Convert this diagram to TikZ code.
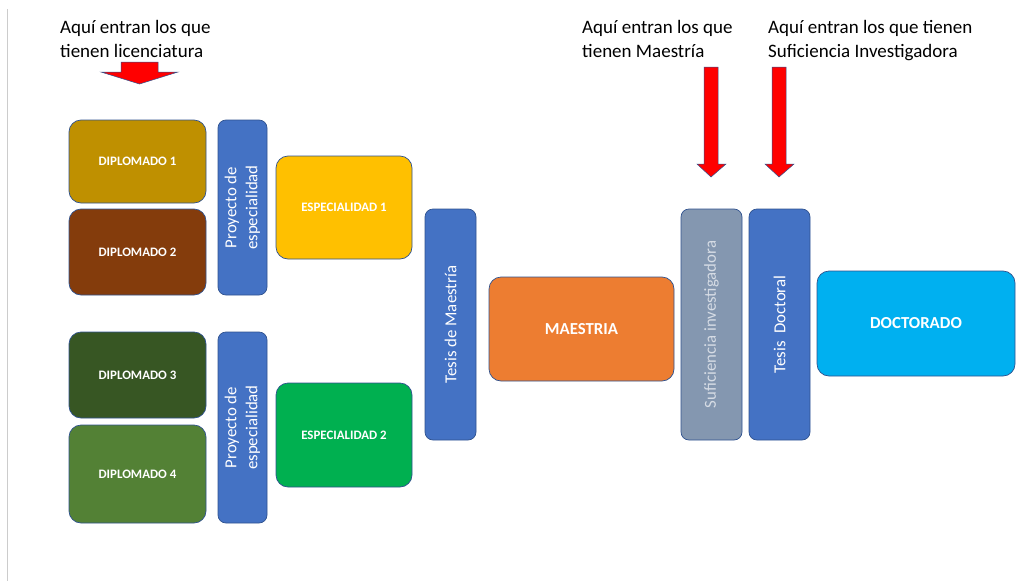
\documentclass[tikz,border=0pt]{standalone}
\usepackage{fontspec}
\setmainfont{Carlito}
\definecolor{edge}{HTML}{2F528F}
\definecolor{cdA}{HTML}{BF9000}
\definecolor{cdB}{HTML}{843C0C}
\definecolor{cdC}{HTML}{375623}
\definecolor{cdD}{HTML}{538135}
\definecolor{cblue}{HTML}{4472C4}
\definecolor{cyel}{HTML}{FFC000}
\definecolor{cgrn}{HTML}{00B050}
\definecolor{corg}{HTML}{ED7D31}
\definecolor{cgray}{HTML}{8497B0}
\definecolor{csky}{HTML}{00B0F0}
\definecolor{ltxt}{HTML}{D6DCE5}
\begin{document}
\begin{tikzpicture}[x=1pt,y=-1pt,
  box/.style={draw=edge, line width=0.7pt, rounded corners=12pt, inner sep=0pt, text=white,
    font=\bfseries\fontsize{12.9}{15}\selectfont},
  bigbox/.style={box, font=\bfseries\fontsize{16.8}{20}\selectfont},
  bar/.style={draw=edge, line width=0.7pt, rounded corners=8pt, inner sep=0pt, text=white,
    rotate=90, align=center, font=\fontsize{16.8}{21}\selectfont},
  note/.style={anchor=north west, align=left, inner sep=0pt, font=\fontsize{19}{23.5}\selectfont},
  redarrow/.style={fill=red, draw=edge, line width=0.5pt}]
\useasboundingbox (0,0) rectangle (1023,581);
\draw[black!20, line width=1pt] (7.5,9) -- (7.5,581);

% notes
\node[note] (n1) at (60,20.5) {Aquí entran los que\\tienen licenciatura};
\node[note] (n2) at (582,20.5) {Aquí entran los que\\tienen Maestría};
\node[note] (n3) at (768,20.5) {Aquí entran los que tienen\\Suficiencia Investigadora};

% arrows
\draw[redarrow] (121,62) -- (158,62) -- (158,72) -- (178,72) -- (139.5,84) -- (101,72) -- (121,72) -- cycle;
\draw[redarrow] (704,67) -- (718,67) -- (718,164) -- (726,164) -- (711,177) -- (697,164) -- (704,164) -- cycle;
\draw[redarrow] (772,67) -- (786,67) -- (786,164) -- (794,164) -- (779,177) -- (765,164) -- (772,164) -- cycle;

% diplomados
\node[box, fill=cdA, minimum width=137pt, minimum height=83pt] (d1) at (137.5,161.5) {DIPLOMADO 1};
\node[box, fill=cdB, minimum width=137pt, minimum height=86pt] (d2) at (137.5,252) {DIPLOMADO 2};
\node[box, fill=cdC, minimum width=137pt, minimum height=86pt] (d3) at (137.5,375) {DIPLOMADO 3};
\node[box, fill=cdD, minimum width=137pt, minimum height=98pt] (d4) at (137.5,474) {DIPLOMADO 4};

% proyectos
\node[bar, fill=cblue, minimum width=175pt, minimum height=49pt] (p1) at (242.5,207.5) {Proyecto de\\especialidad};
\node[bar, fill=cblue, minimum width=191pt, minimum height=49pt] (p2) at (242.5,427.5) {Proyecto de\\especialidad};

% especialidades
\node[box, fill=cyel, minimum width=136pt, minimum height=103pt] (e1) at (344,207.5) {ESPECIALIDAD 1};
\node[box, fill=cgrn, minimum width=136pt, minimum height=104pt] (e2) at (344,435) {ESPECIALIDAD 2};

% tesis maestria
\node[bar, fill=cblue, minimum width=231pt, minimum height=51pt] (tm) at (450.5,324.5) {Tesis de Maestría};

% maestria
\node[bigbox, fill=corg, minimum width=185pt, minimum height=104pt] (ma) at (581.5,329) {MAESTRIA};

% suficiencia
\node[bar, fill=cgray, text=ltxt, minimum width=231pt, minimum height=61pt] (si) at (711.5,324.5) {Suficiencia investigadora};

% tesis doctoral
\node[bar, fill=cblue, minimum width=231pt, minimum height=61pt] (td) at (779.5,324.5) {Tesis\ \ Doctoral};

% doctorado
\node[bigbox, fill=csky, minimum width=198pt, minimum height=105pt] (do) at (916,323.5) {DOCTORADO};
\end{tikzpicture}
\end{document}
